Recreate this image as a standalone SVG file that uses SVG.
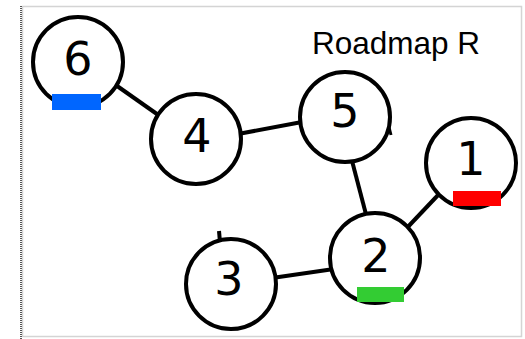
<svg xmlns="http://www.w3.org/2000/svg" width="525" height="339" viewBox="0 0 525 339">
<style>
.node circle{fill:#fff;stroke:#000;stroke-width:4}
.node text{font-family:"DejaVu Sans",sans-serif;font-size:46px;text-anchor:middle;fill:#000}
#connectors line{stroke:#000;stroke-width:4;stroke-linecap:butt}
.title{font-family:"Liberation Sans",Arial,sans-serif;font-size:31.5px;fill:#000}
</style>
<rect x="0" y="0" width="525" height="339" fill="#fff"/>
<rect x="22.5" y="6.5" width="499" height="330" fill="none" stroke="#d4d4d4" stroke-width="1.5"/>
<line x1="21" y1="6" x2="21" y2="339" stroke="#555" stroke-width="2" stroke-dasharray="1,1"/>
<text class="title" x="312" y="54">Roadmap R</text>
<g id="connectors">
<line x1="110" y1="81" x2="164" y2="119"/>
<line x1="238" y1="134" x2="302" y2="122"/>
<line x1="351" y1="157" x2="368" y2="222"/>
<line x1="440" y1="193" x2="404" y2="231"/>
<line x1="272" y1="278" x2="334" y2="269"/>
<line x1="219" y1="231" x2="220" y2="242"/>
<line x1="389" y1="127" x2="391" y2="135" style="stroke-width:3"/>
</g>
<g id="node6" class="node"><circle cx="78" cy="62" r="45"/><text x="78" y="75">6</text><rect x="52" y="94" width="49" height="16" fill="#0066ff"/></g>
<g id="node4" class="node"><circle cx="196" cy="139" r="45"/><text x="197" y="152">4</text></g>
<g id="node5" class="node"><circle cx="345" cy="117" r="45"/><text x="345" y="127">5</text></g>
<g id="node1" class="node"><circle cx="471" cy="163" r="45"/><text x="471" y="175">1</text><rect x="453" y="191" width="48" height="15" fill="#ff0000"/></g>
<g id="node2" class="node"><circle cx="375" cy="258" r="45"/><text x="376" y="272">2</text><rect x="357" y="287" width="47" height="15" fill="#33cc33"/></g>
<g id="node3" class="node"><circle cx="231" cy="284" r="45"/><text x="229" y="295">3</text></g>
</svg>
